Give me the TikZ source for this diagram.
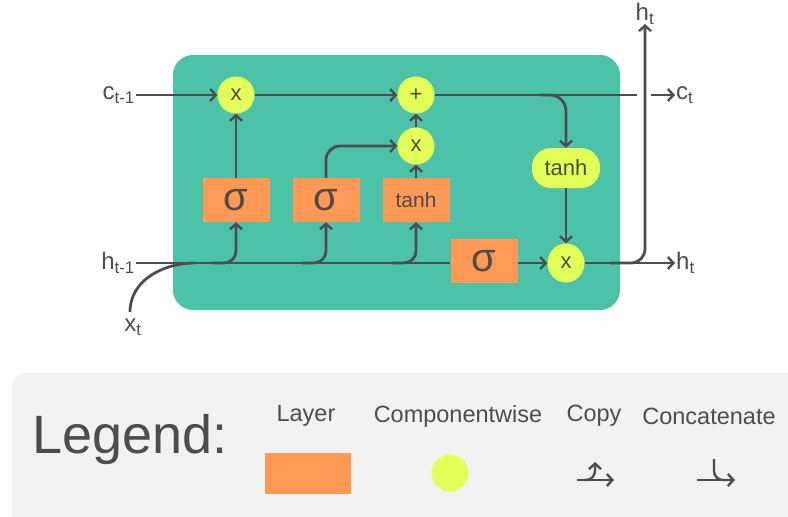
\documentclass[tikz,border=0pt]{standalone}
\usepackage{fontspec}
\setmainfont{Liberation Sans}
\usetikzlibrary{arrows.meta,shapes.geometric}
\definecolor{dk}{HTML}{4D4D4D}
\definecolor{tealb}{HTML}{4CC3A8}
\definecolor{org}{HTML}{FF9955}
\definecolor{ylw}{HTML}{E3FF57}
\definecolor{lgb}{HTML}{F2F2F2}
\newcommand{\fs}[1]{\fontsize{#1}{#1}\selectfont}
\tikzset{
  lay/.style={rectangle, fill=org, minimum width=67pt, minimum height=44pt, inner sep=0pt, text=dk},
  op/.style={circle, fill=ylw, minimum size=37pt, inner sep=0pt, text=dk, font=\fs{22}},
  wire/.style={draw=dk, line width=2.8pt},
  arr/.style={-{Straight Barb[length=5.5pt,width=12pt,line width=2.4pt]}},
  lbl/.style={text=dk, font=\fs{24}, inner sep=1pt},
  leg/.style={text=dk, font=\fs{23.5}},
}
\begin{document}
\begin{tikzpicture}[x=1pt,y=-1pt]
\useasboundingbox (0,0) rectangle (788,517);
% background boxes
\fill[tealb, rounded corners=20pt] (173,55) rectangle (620,310);
\fill[lgb, rounded corners=14pt] (12,373) rectangle (800,530);
% nodes
\node[op] (m1) at (236,95) {x};
\node[op] (pl) at (416,95) {+};
\node[op] (m2) at (416,146) {x};
\node[ellipse, fill=ylw, minimum width=37pt, minimum height=39pt, inner sep=0pt, text=dk, font=\fs{22}] (m3) at (566,263) {x};
\node[lay, font=\fs{40}] (s1) at (236,200) {σ};
\node[lay, font=\fs{40}] (s2) at (326,200) {σ};
\node[lay, font=\fs{21}] (tb) at (416,200) {tanh};
\node[lay, font=\fs{40}] (s4) at (484,261) {σ};
\node[rectangle, rounded corners=19pt, fill=ylw, minimum width=68pt, minimum height=40pt, inner sep=0pt, text=dk, font=\fs{22}] (ty) at (566,168) {tanh};
% labels
\node[lbl, anchor=east] (cin) at (136,95) {c\textsubscript{t-1}};
\node[lbl, anchor=east] (hin) at (136,263) {h\textsubscript{t-1}};
\node[lbl] (xin) at (133,327) {x\textsubscript{t}};
\node[lbl, anchor=west] (cout) at (675,95) {c\textsubscript{t}};
\node[lbl, anchor=west] (hout) at (675,263) {h\textsubscript{t}};
\node[lbl] (htop) at (645,14) {h\textsubscript{t}};
\coordinate (cgapa) at (637,95);
\coordinate (cgapb) at (651,95);
\coordinate (xst) at (130,312);
\coordinate (xj) at (195,263);
\coordinate (b1) at (212,263);
\coordinate (b2) at (302,263);
\coordinate (b3) at (392,263);
\coordinate (bt) at (540,95);
\coordinate (bh) at (610,263);
\coordinate (hv) at (645,24);
% wires
\draw[wire, arr] (cin.east) -- (m1.west);
\draw[wire, arr] (m1.east) -- (pl.west);
\draw[wire] (pl.east) -- (cgapa);
\draw[wire, arr] (cgapb) -- (cout.west);
\draw[wire, arr, rounded corners=16pt] (bt) -| (ty.north);
\draw[wire, arr] (ty.south) -- (m3.north);
\draw[wire, arr] (s1.north) -- (m1.south);
\draw[wire, arr, rounded corners=14pt] (s2.north) |- (m2.west);
\draw[wire, arr] (tb.north) -- (m2.south);
\draw[wire, arr] (m2.north) -- (pl.south);
\draw[wire] (hin.east) -- (s4.west |- hin.east);
\draw[wire] (xst) to[out=90, in=180] (xj);
\draw[wire, arr, rounded corners=12pt] (b1) -| (s1.south);
\draw[wire, arr, rounded corners=12pt] (b2) -| (s2.south);
\draw[wire, arr, rounded corners=12pt] (b3) -| (tb.south);
\draw[wire, arr] (s4.east |- m3.west) -- (m3.west);
\draw[wire, arr] (m3.east) -- (hout.west);
\draw[wire, arr, rounded corners=14pt] (bh) -| (hv);
% legend
\node[text=dk, font=\fs{54}] (lg) at (130,440) {Legend:};
\node[leg] (tl) at (306,416) {Layer};
\node[leg] (tc) at (458,416) {Componentwise};
\node[leg] (tp) at (594,416) {Copy};
\node[leg] (tn) at (709,416) {Concatenate};
\node[rectangle, fill=org, minimum width=86pt, minimum height=41pt, inner sep=0pt] (lr) at (308,473) {};
\node[circle, fill=ylw, minimum size=37pt, inner sep=0pt] (lc) at (450,473) {};
\coordinate (cpa) at (577,480);
\coordinate (cpb) at (614,480);
\coordinate (cpc) at (584,480);
\coordinate (cpd) at (595,462);
\draw[wire, line width=2.4pt, arr] (cpa) -- (cpb);
\draw[wire, line width=2.4pt, arr, rounded corners=9pt] (cpc) -| (cpd);
\coordinate (cna) at (697,480);
\coordinate (cnb) at (735,480);
\coordinate (cnc) at (714,459);
\coordinate (cnd) at (728,480);
\draw[wire, line width=2.4pt, arr] (cna) -- (cnb);
\draw[wire, line width=2.4pt, rounded corners=9pt] (cnc) |- (cnd);
\end{tikzpicture}
\end{document}
